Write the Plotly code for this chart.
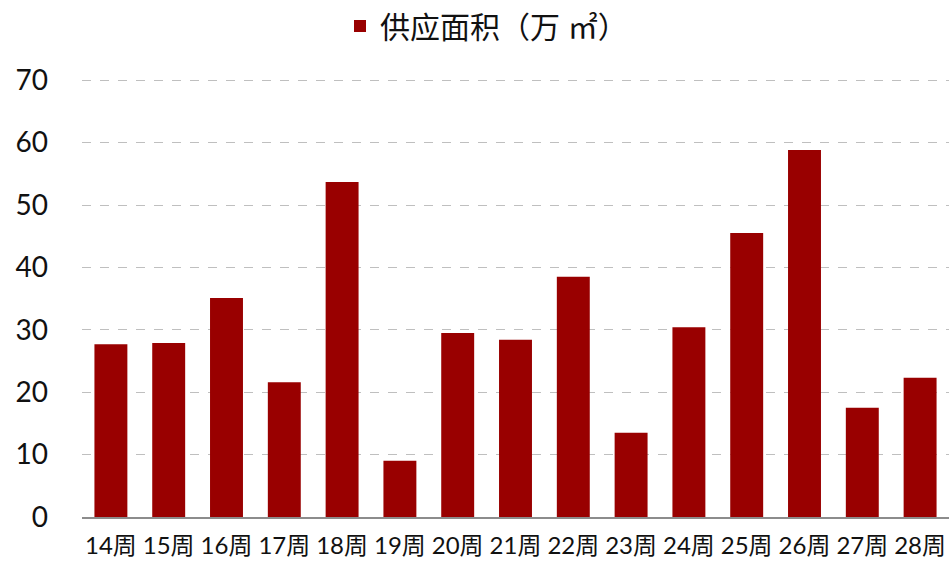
import plotly.graph_objects as go

weeks = ["14周", "15周", "16周", "17周", "18周", "19周", "20周", "21周",
         "22周", "23周", "24周", "25周", "26周", "27周", "28周"]
supply = [27.7, 27.9, 35.1, 21.6, 53.7, 9.0, 29.5, 28.4,
          38.5, 13.5, 30.4, 45.5, 58.8, 17.5, 22.3]
y_ticks = [0, 10, 20, 30, 40, 50, 60, 70]

fig = go.Figure()
fig.add_trace(go.Bar(
    x=weeks, y=supply, name="供应面积（万 ㎡）",
    marker=dict(color="#990000", line=dict(width=0)),
))

fig.update_layout(
    width=949, height=563,
    margin=dict(l=82, r=0, t=74, b=46),
    paper_bgcolor="white", plot_bgcolor="white",
    bargap=0.43,
    font=dict(family="Lato, Noto Sans CJK SC, sans-serif", color="#111111"),
    showlegend=True,
    legend=dict(orientation="h", x=340 / 949, xanchor="left", xref="container",
                y=1.0, yanchor="top", yref="container",
                font=dict(size=30), itemwidth=30),
    xaxis=dict(showline=True, linecolor="#8c8c8c", linewidth=2, automargin=False,
               tickfont=dict(size=24), ticks="", showgrid=False,
               ticklabelstandoff=6),
    yaxis=dict(range=[0, 71], tickvals=y_ticks, showgrid=True, automargin=False,
               gridcolor="#bfbfbf", griddash="dash", gridwidth=1,
               zeroline=False, tickfont=dict(size=28), ticks="",
               ticklabelstandoff=33),
)

fig.write_html("out.html", config={"displayModeBar": False},
               post_script="document.body.style.margin='0';document.body.style.overflow='hidden';")
